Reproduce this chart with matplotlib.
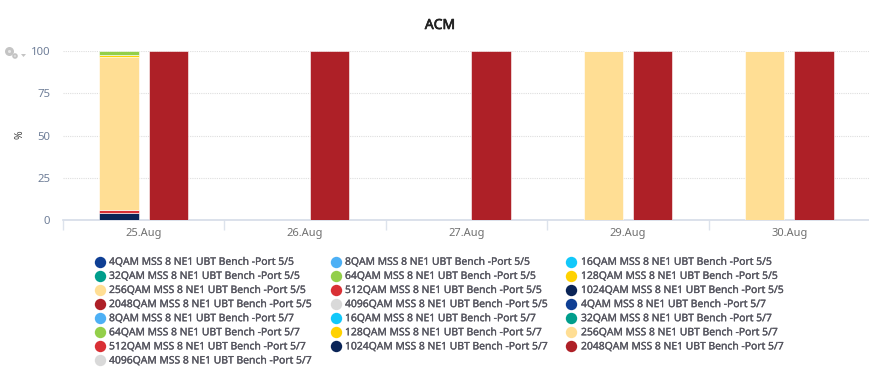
import matplotlib
matplotlib.use("Agg")
import matplotlib.pyplot as plt
import matplotlib.patheffects as pe
from matplotlib.lines import Line2D
from matplotlib.patches import Circle, Polygon
import numpy as np

W, H = 870, 381
FAM = ["Noto Sans", "DejaVu Sans"]

title = "ACM"
days = ["25.Aug", "26.Aug", "27.Aug", "29.Aug", "30.Aug"]
yticks = [0, 25, 50, 75, 100]
ylabel = "%"
mods = ["4QAM", "8QAM", "16QAM", "32QAM", "64QAM", "128QAM", "256QAM",
        "512QAM", "1024QAM", "2048QAM", "4096QAM"]
colors = ["#0F3F94", "#4DB0F5", "#12C8FA", "#009E8C", "#93CF4A", "#FFD200",
          "#FFDE94", "#D93035", "#0A2457", "#AE2027", "#D9D9D9"]
# stacks: first-listed series sits on top
port55 = {"64QAM": [2.5, 0, 0, 0, 0], "128QAM": [1, 0, 0, 0, 0],
          "256QAM": [90.5, 0, 0, 100, 100], "512QAM": [2, 0, 0, 0, 0],
          "1024QAM": [4, 0, 0, 0, 0]}
port57 = {"2048QAM": [100, 100, 100, 100, 100]}
ports = ["Port 5/5", "Port 5/7"]

fig = plt.figure(figsize=(W / 100, H / 100), dpi=100, facecolor="white")
L, R, T, B = 63, 870, 51, 220
ax = fig.add_axes([L / W, 1 - B / H, (R - L) / W, (B - T) / H])
ax.set_xlim(-0.5, 4.5)
ax.set_ylim(0, 100)
for s in ["top", "right", "left"]:
    ax.spines[s].set_visible(False)
ax.spines["bottom"].set_color("#D5DCE8")
ax.spines["bottom"].set_linewidth(1.2)
ax.set_axisbelow(True)
ax.yaxis.grid(True, color="#DEDEDE", linestyle=(0, (1, 1)), linewidth=0.8)
ax.set_yticks(yticks)
ax.tick_params(axis="y", length=0, pad=9, labelsize=8.2, labelcolor="#6F7E98")
ax.set_xticks(np.arange(-0.5, 5, 1), minor=False, labels=[""] * 6)
ax.tick_params(axis="x", length=7, color="#DDE3EC", width=1)
ax.set_xticks(range(5), labels=days, minor=True)
ax.tick_params(axis="x", which="minor", length=0, pad=6, labelsize=8, labelcolor="#707070")
for t in ax.get_xticklabels(minor=True) + ax.get_yticklabels():
    t.set_family(FAM)

bw = 39.6 / 161.4
off = 24.6 / 161.4
x = np.arange(5)
def draw(stack, xs):
    order = [m for m in mods if m in stack]
    bottom = np.zeros(5)
    for m in reversed(order):
        v = np.array(stack[m], float)
        ax.bar(xs, v, bw, bottom=bottom, color=colors[mods.index(m)],
               edgecolor="white", linewidth=0.4, zorder=3)
        bottom += v
draw(port55, x - off)
draw(port57, x + off)

bold = [pe.withStroke(linewidth=0.5, foreground="#222222")]
fig.text(440 / W, 1 - 25.5 / H, title, family=FAM, fontsize=10, color="#222222",
         ha="center", va="center", path_effects=bold)
fig.text(20 / W, 1 - 135 / H, ylabel, family=FAM, fontsize=7.5, color="#444444",
         rotation=90, ha="center", va="center")

names = [(m, p) for p in ports for m in mods]
col_items = [names[0::3], names[1::3], names[2::3]]
col_x = [(100, 109), (336, 345), (571, 581)]
leg = fig.add_axes([0, 0, 1, 1], facecolor="none")
leg.set_xlim(0, W)
leg.set_ylim(H, 0)
leg.axis("off")
y0, dy = 261.7, 14.1
legend_fx = [pe.withStroke(linewidth=0.2, foreground="#55555F")]
for (mx, tx), items in zip(col_x, col_items):
    for i, (m, p) in enumerate(items):
        y = y0 + i * dy
        leg.add_line(Line2D([mx], [y], marker="o", ms=8.2, mec="none",
                            color=colors[mods.index(m)]))
        leg.text(tx, y + 0.6, f"{m} MSS 8 NE1 UBT Bench -{p}", family=FAM, fontsize=7.45,
                 color="#55555F", va="center", ha="left", path_effects=legend_fx)

# export menu glyph
leg.add_patch(Circle((9.5, 51.5), 4.5, fc="#C4C4C4", ec="none"))
leg.add_patch(Circle((9.5, 51.5), 1.5, fc="#E8E8E8", ec="none"))
leg.add_patch(Circle((15, 56), 2.8, fc="#C4C4C4", ec="none"))
leg.add_patch(Circle((15, 56), 0.9, fc="#E8E8E8", ec="none"))
leg.add_patch(Polygon([[21, 54], [26, 54], [23.5, 57]], closed=True, fc="#C4C4C4", ec="none"))

fig.savefig("out.png", dpi=100)
